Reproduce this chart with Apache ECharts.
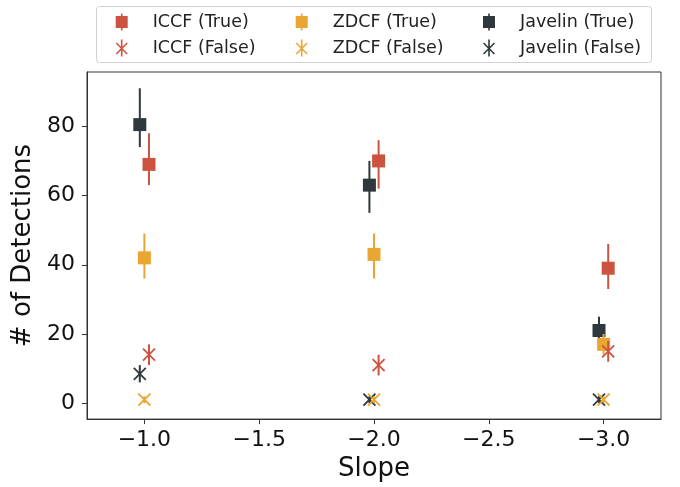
<!DOCTYPE html>
<html>
<head>
<meta charset="utf-8">
<script src="https://cdn.jsdelivr.net/npm/echarts@6/dist/echarts.min.js"></script>
<style>html,body{margin:0;padding:0;background:#fff}#c{width:680px;height:487px}</style>
</head>
<body>
<div id="c"></div>
<script>
// ---- data ----
const slopes = [-1, -2, -3];
const xTicks = [-1.0, -1.5, -2.0, -2.5, -3.0];
const yTicks = [0, 20, 40, 60, 80];

const iccfTrue = [69, 70, 39];
const iccfTrueLo = [63, 62, 33];
const iccfTrueHi = [78, 76, 46];
const iccfFalse = [14, 11, 15];
const iccfFalseLo = [11, 8, 12];
const iccfFalseHi = [17, 14, 18];

const zdcfTrue = [42, 43, 17];
const zdcfTrueLo = [36, 36, 14];
const zdcfTrueHi = [49, 49, 20];
const zdcfFalse = [1, 1, 1];
const zdcfFalseLo = [0, 0, 0];
const zdcfFalseHi = [2, 2, 2];

const javTrue = [80.5, 63, 21];
const javTrueLo = [74, 55, 17];
const javTrueHi = [91, 70, 25];
const javFalse = [8.5, 1, 1];
const javFalseLo = [6, 0, 0];
const javFalseHi = [11, 2, 2];

// ---- styling ----
const C_ICCF = '#cd5341';
const C_ZDCF = '#eaa632';
const C_JAV = '#2f393d';
const OFF = { ICCF: -0.02, ZDCF: 0, Javelin: 0.02 };

const ICON_SQ = 'path://M5.2,0 L6.8,0 L6.8,2.5 L12,2.5 L12,14.5 L6.8,14.5 L6.8,17 L5.2,17 L5.2,14.5 L0,14.5 L0,2.5 L5.2,2.5 Z';
const ICON_X = 'path://M5.2,0 L6.8,0 L6.8,17 L5.2,17 Z M0,4.1 L1.1,3 L12,13.9 L10.9,15 Z M12,4.1 L1.1,15 L0,13.9 L10.9,3 Z';

function mk(vals, lo, hi, off) {
  return slopes.map((s, i) => [s + off, vals[i], lo[i], hi[i]]);
}

function series(name, color, vals, lo, hi, off, marker) {
  return {
    type: 'custom',
    name: name,
    itemStyle: { color: color },
    data: mk(vals, lo, hi, off),
    clip: false,
    renderItem: function (params, api) {
      const x = api.value(0), y = api.value(1), l = api.value(2), h = api.value(3);
      const c = api.coord([x, y]);
      const pl = api.coord([x, l]);
      const ph = api.coord([x, h]);
      const children = [{
        type: 'line',
        shape: { x1: pl[0], y1: pl[1], x2: ph[0], y2: ph[1] },
        style: { stroke: color, lineWidth: 2 }
      }];
      if (marker === 'sq') {
        children.push({
          type: 'rect',
          shape: { x: c[0] - 6.5, y: c[1] - 6.5, width: 13, height: 13 },
          style: { fill: color }
        });
      } else {
        const r = 6;
        children.push({
          type: 'line',
          shape: { x1: c[0] - r, y1: c[1] - r, x2: c[0] + r, y2: c[1] + r },
          style: { stroke: color, lineWidth: 1.8 }
        });
        children.push({
          type: 'line',
          shape: { x1: c[0] - r, y1: c[1] + r, x2: c[0] + r, y2: c[1] - r },
          style: { stroke: color, lineWidth: 1.8 }
        });
      }
      return { type: 'group', children: children };
    }
  };
}

const FONT = 'DejaVu Sans';
const minus = v => String(v).replace('-', '\u2212');

function legendAt(name, icon, left, top) {
  return {
    data: [{ name: name, icon: icon }],
    left: left, top: top, padding: 0,
    itemWidth: 12, itemHeight: 17,
    selectedMode: false,
    textStyle: { fontFamily: FONT, fontSize: 17.5, color: '#222', padding: [0, 0, 0, 20] }
  };
}

const colLeft = [115.7, 295.7, 483];
const rowTop = [13, 39];

const option = {
  animation: false,
  backgroundColor: '#fff',
  graphic: [{
    type: 'rect',
    shape: { x: 96.5, y: 6.5, width: 555, height: 56, r: 3 },
    style: { fill: '#fff', stroke: '#d0d0d0', lineWidth: 1 },
    z: -1
  }],
  legend: [
    legendAt('ICCF (True)', ICON_SQ, colLeft[0], rowTop[0]),
    legendAt('ICCF (False)', ICON_X, colLeft[0], rowTop[1]),
    legendAt('ZDCF (True)', ICON_SQ, colLeft[1], rowTop[0]),
    legendAt('ZDCF (False)', ICON_X, colLeft[1], rowTop[1]),
    legendAt('Javelin (True)', ICON_SQ, colLeft[2], rowTop[0]),
    legendAt('Javelin (False)', ICON_X, colLeft[2], rowTop[1])
  ],
  grid: {
    left: 87, right: 19, top: 72, bottom: 67,
    show: true, borderColor: '#333', borderWidth: 1, backgroundColor: '#fff'
  },
  xAxis: {
    type: 'value', inverse: true, min: -3.25, max: -0.75,
    name: 'Slope', nameLocation: 'middle', nameGap: 36,
    nameTextStyle: { fontFamily: FONT, fontSize: 26, color: '#111' },
    axisLine: { show: true, onZero: false, lineStyle: { color: '#333', width: 1 } },
    axisTick: { show: true, length: 5, customValues: xTicks, lineStyle: { color: '#333' } },
    axisLabel: { customValues: xTicks, margin: 10, fontFamily: FONT, fontSize: 22, color: '#111',
      formatter: v => minus(Number(v).toFixed(1)) },
    splitLine: { show: false }
  },
  yAxis: {
    type: 'value', min: -4.6, max: 95.7,
    name: '# of Detections', nameLocation: 'middle', nameGap: 44,
    nameTextStyle: { fontFamily: FONT, fontSize: 26, color: '#111' },
    axisLine: { show: true, onZero: false, lineStyle: { color: '#333', width: 1 } },
    axisTick: { show: true, length: 5, customValues: yTicks, lineStyle: { color: '#333' } },
    axisLabel: { customValues: yTicks, margin: 12, fontFamily: FONT, fontSize: 22, color: '#111' },
    splitLine: { show: false }
  },
  series: [
    series('Javelin (True)', C_JAV, javTrue, javTrueLo, javTrueHi, OFF.Javelin, 'sq'),
    series('Javelin (False)', C_JAV, javFalse, javFalseLo, javFalseHi, OFF.Javelin, 'x'),
    series('ZDCF (True)', C_ZDCF, zdcfTrue, zdcfTrueLo, zdcfTrueHi, OFF.ZDCF, 'sq'),
    series('ZDCF (False)', C_ZDCF, zdcfFalse, zdcfFalseLo, zdcfFalseHi, OFF.ZDCF, 'x'),
    series('ICCF (True)', C_ICCF, iccfTrue, iccfTrueLo, iccfTrueHi, OFF.ICCF, 'sq'),
    series('ICCF (False)', C_ICCF, iccfFalse, iccfFalseLo, iccfFalseHi, OFF.ICCF, 'x')
  ]
};

const chart = echarts.init(document.getElementById('c'), null, { renderer: 'canvas' });
chart.setOption(option);
</script>
</body>
</html>
